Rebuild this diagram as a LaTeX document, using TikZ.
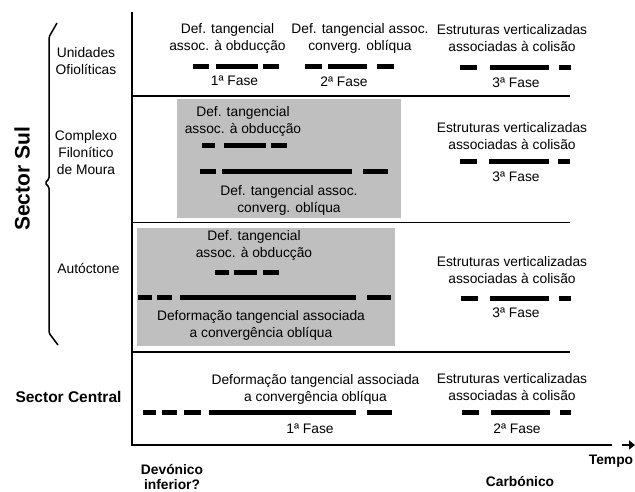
\documentclass[tikz,border=0pt]{standalone}
\usepackage{fontspec}
\setmainfont{Liberation Sans}
\usetikzlibrary{arrows.meta}

\begin{document}
\begin{tikzpicture}[x=1pt,y=-1pt,
  lbl/.style={align=center,inner sep=0pt,font=\fontsize{13.8}{17}\selectfont},
  hd/.style={align=center,inner sep=0pt,font=\fontsize{13.8}{15.5}\selectfont\bfseries},
  bar/.style={line width=5pt},
  axis/.style={line width=2.6pt},
  divider/.style={line width=1.3pt},
  panel/.style={fill=black!25}]

\useasboundingbox (0,0) rectangle (635,492);

% grey panels
\fill[panel] (177,99) rectangle (401,218);
\fill[panel] (137,228) rectangle (395,346);

% axes and row dividers
\coordinate (top) at (132,12);
\coordinate (o) at (132,445);
\coordinate (end) at (612,445);
\draw[axis] (top) -- (o) -- (end);
\draw[axis,-{Triangle[length=6pt,width=9pt]}] (622,445) -- (635,445);
\draw[divider] (132,96) -- (570,96);
\draw[divider] (132,222.5) -- (570,222.5);
\draw[divider] (132,352) -- (570,352);

% brace of the southern sector
\draw[line width=1.5pt,rounded corners=1.5pt] (57,23) -- (49,37) -- (49,179) -- (45,183)
  -- (49,187) -- (49,333) -- (58,345);
\node[hd,font=\fontsize{21}{24}\selectfont\bfseries,rotate=90] (sul) at (22,179) {Sector Sul};

% units
\node[lbl] (unid) at (86,61.5) {Unidades\\Ofiol\'iticas};
\node[lbl] (compl) at (86,153) {Complexo\\Filon\'itico\\de Moura};
\node[lbl] (auto) at (88.5,268) {Aut\'octone};
\node[hd,font=\fontsize{15.5}{18}\selectfont\bfseries] (central) at (68.5,397) {Sector Central};

% time labels
\node[hd] (devon) at (172,477) {Dev\'onico\\inferior?};
\node[hd] (carb) at (520,482) {Carb\'onico};
\node[hd] (tempo) at (611,461) {Tempo};

% row 1
\node[lbl] (obd1) at (227.5,38.5) {Def. tangencial\\assoc. à obducção};
\node[lbl] (fase1a) at (234.5,81) {1ª Fase};
\draw[bar] (193,67) -- (209,67) (216,67) -- (258,67) (263,67) -- (279,67);
\node[lbl] (obl1) at (360,38.5) {Def. tangencial assoc.\\converg. oblíqua};
\node[lbl] (fase1b) at (344,82) {2ª Fase};
\draw[bar] (305,67) -- (322,67) (328,67) -- (367,67) (377,67) -- (394,67);
\node[lbl] (col1) at (512,38.5) {Estruturas verticalizadas\\associadas à colisão};
\node[lbl] (fase1c) at (516,83) {3ª Fase};
\draw[bar] (460,68) -- (477,68) (490,68) -- (549,68) (559,68) -- (571,68);

% row 2
\node[lbl] (obd2) at (243,121.5) {Def. tangencial\\assoc. à obducção};
\draw[bar] (202,146) -- (215,146) (224,146) -- (266,146) (271,146) -- (287,146);
\draw[bar] (200,172) -- (216,172) (222,172) -- (352,172) (363,172) -- (388,172);
\node[lbl] (obl2) at (289,200.5) {Def. tangencial assoc.\\converg. oblíqua};
\node[lbl] (col2) at (512,136) {Estruturas verticalizadas\\associadas à colisão};
\draw[bar] (460,162) -- (477,162) (489,162) -- (549,162) (558,162) -- (570,162);
\node[lbl] (fase2c) at (516,177) {3ª Fase};

% row 3
\node[lbl] (obd3) at (254,245.5) {Def. tangencial\\assoc. à obducção};
\draw[bar] (215,272) -- (229,272) (234,272) -- (257,272) (263,272) -- (279,272);
\draw[bar] (138,297) -- (152,297) (157,297) -- (172,297) (180,297) -- (356,297)
  (367,297) -- (391,297);
\node[lbl] (obl3) at (261,325) {Deformação tangencial associada\\a convergência oblíqua};
\node[lbl] (col3) at (512,270.5) {Estruturas verticalizadas\\associadas à colisão};
\draw[bar] (461,298) -- (478,298) (490,298) -- (549,298) (559,298) -- (571,298);
\node[lbl] (fase3c) at (516,313) {3ª Fase};

% row 4
\node[lbl] (obl4) at (315.5,389.5) {Deformação tangencial associada\\a convergência oblíqua};
\draw[bar] (143,412) -- (156,412) (162,412) -- (177,412) (184,412) -- (201,412)
  (209,412) -- (356,412) (367,412) -- (392,412);
\node[lbl] (fase4a) at (310,429) {1ª Fase};
\node[lbl] (col4) at (512,387.5) {Estruturas verticalizadas\\associadas à colisão};
\draw[bar] (462,412) -- (479,412) (491,412) -- (550,412) (560,412) -- (571,412);
\node[lbl] (fase4c) at (517,429) {2ª Fase};
\end{tikzpicture}
\end{document}
